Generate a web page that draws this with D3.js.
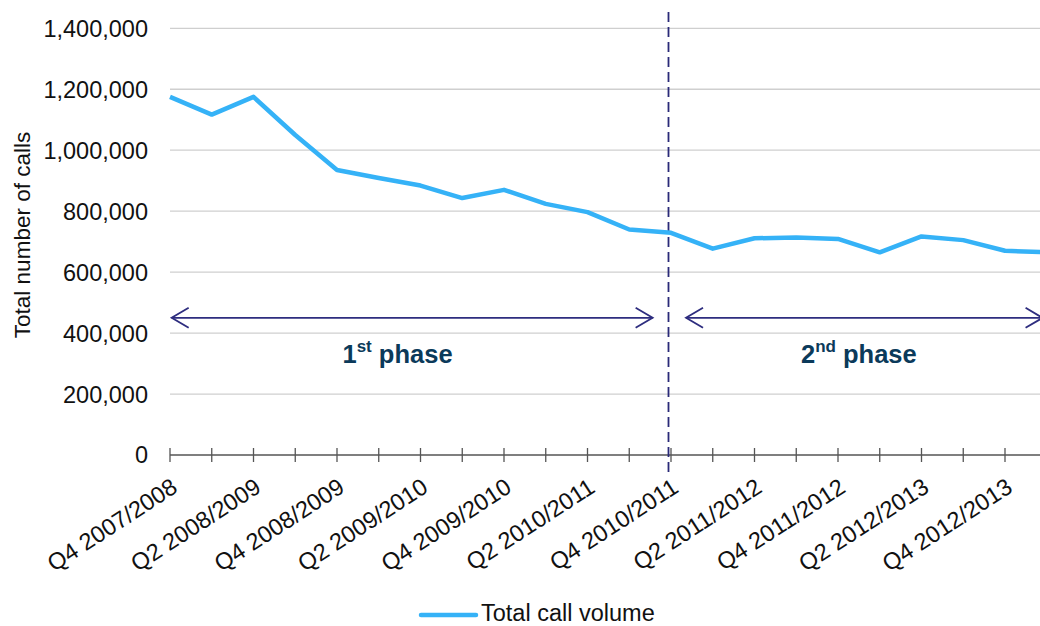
<!DOCTYPE html>
<html>
<head>
<meta charset="utf-8">
<script src="https://cdn.jsdelivr.net/npm/d3@7"></script>
<style>
  html, body { margin: 0; padding: 0; background: #ffffff; }
  svg { display: block; font-family: "Liberation Sans", Arial, sans-serif; }
</style>
</head>
<body>
<svg id="chart" width="1040" height="626"></svg>
<script>
// Quarterly periods (financial years)
const quarters = [
  "Q4 2007/2008", "Q1 2008/2009", "Q2 2008/2009", "Q3 2008/2009", "Q4 2008/2009",
  "Q1 2009/2010", "Q2 2009/2010", "Q3 2009/2010", "Q4 2009/2010",
  "Q1 2010/2011", "Q2 2010/2011", "Q3 2010/2011", "Q4 2010/2011",
  "Q1 2011/2012", "Q2 2011/2012", "Q3 2011/2012", "Q4 2011/2012",
  "Q1 2012/2013", "Q2 2012/2013", "Q3 2012/2013", "Q4 2012/2013",
  "Q1 2013/2014"
];

// Total call volume per quarter
const callVolume = [
  1175000, 1117000, 1175000, 1050000, 935000,
  909000, 884000, 843000, 870000,
  824000, 797000, 740000, 729000,
  677000, 711000, 714000, 709000,
  665000, 717000, 705000, 670000,
  665000
];

// Value axis ticks
const yTicks = [0, 200000, 400000, 600000, 800000, 1000000, 1200000, 1400000];

// Phase annotations: [start index, end index] and labels
const phaseBoundary = 11.94;
const phases = [
  { from: 0.04, to: 11.56, num: "1", sup: "st", label: " phase", center: 5.45 },
  { from: 12.36, to: 20.9, num: "2", sup: "nd", label: " phase", center: 16.5 }
];
const phaseArrowValue = 450000;
const phaseLabelValue = 300000;

const seriesName = "Total call volume";

const svg = d3.select("#chart");

const x = d3.scaleLinear().domain([0, 20]).range([170, 1005]);
const y = d3.scaleLinear().domain([0, 1400000]).range([455, 28.3]);

const textSize = 23.5;

// Horizontal gridlines
svg.append("g")
  .selectAll("line")
  .data(yTicks.filter(d => d > 0))
  .join("line")
  .attr("x1", x(0)).attr("x2", 1040)
  .attr("y1", d => y(d)).attr("y2", d => y(d))
  .attr("stroke", "#cfcfcf").attr("stroke-width", 1.3);

// Value axis labels
const fmt = d3.format(",");
svg.append("g")
  .selectAll("text")
  .data(yTicks)
  .join("text")
  .attr("x", 148)
  .attr("y", d => y(d))
  .attr("dy", "0.36em")
  .attr("text-anchor", "end")
  .attr("font-size", textSize)
  .attr("fill", "#111")
  .text(d => fmt(d));

// Value axis title
svg.append("text")
  .attr("transform", "translate(30,235) rotate(-90)")
  .attr("text-anchor", "middle")
  .attr("font-size", 22.5)
  .attr("fill", "#111")
  .text("Total number of calls");

// Category axis line and crossing tick marks
const idx = d3.range(quarters.length);
svg.append("line")
  .attr("x1", x(0)).attr("x2", 1040)
  .attr("y1", y(0)).attr("y2", y(0))
  .attr("stroke", "#555").attr("stroke-width", 1.5);
svg.append("g")
  .selectAll("line")
  .data(idx)
  .join("line")
  .attr("x1", d => x(d)).attr("x2", d => x(d))
  .attr("y1", y(0) - 7).attr("y2", y(0) + 7)
  .attr("stroke", "#555").attr("stroke-width", 1.3);

// Category labels on every other quarter, slanted
svg.append("g")
  .selectAll("text")
  .data(idx.filter(i => i % 2 === 0))
  .join("text")
  .attr("transform", d => `translate(${x(d) + 9},${491}) rotate(-33)`)
  .attr("text-anchor", "end")
  .attr("font-size", textSize)
  .attr("fill", "#111")
  .text(d => quarters[d]);

// Phase boundary
svg.append("line")
  .attr("x1", x(phaseBoundary)).attr("x2", x(phaseBoundary))
  .attr("y1", 12).attr("y2", 472)
  .attr("stroke", "#2a2a78").attr("stroke-width", 1.8)
  .attr("stroke-dasharray", "10,5");

// Phase arrows (double-headed, open chevrons)
const arrowColor = "#2e2d7f";
phases.forEach(p => {
  const g = svg.append("g").attr("stroke", arrowColor).attr("fill", "none").attr("stroke-width", 1.8);
  const ya = y(phaseArrowValue);
  const x1 = x(p.from), x2 = x(p.to);
  g.append("line").attr("x1", x1).attr("x2", x2).attr("y1", ya).attr("y2", ya);
  g.append("path").attr("d", `M${x1 + 17},${ya - 10} L${x1},${ya} L${x1 + 17},${ya + 10}`);
  g.append("path").attr("d", `M${x2 - 17},${ya - 10} L${x2},${ya} L${x2 - 17},${ya + 10}`);

  const t = svg.append("text")
    .attr("x", x(p.center))
    .attr("y", y(phaseLabelValue) - 1)
    .attr("text-anchor", "middle")
    .attr("font-size", 25.5)
    .attr("font-weight", "bold")
    .attr("fill", "#0b3a5a");
  t.append("tspan").text(p.num);
  t.append("tspan").attr("font-size", 17).attr("dy", "-0.6em").text(p.sup);
  t.append("tspan").attr("dy", "0.4em").text(p.label);
});

// Call volume line
const line = d3.line()
  .x((d, i) => x(i))
  .y(d => y(d));
svg.append("path")
  .datum(callVolume)
  .attr("d", line)
  .attr("fill", "none")
  .attr("stroke", "#35b2f7")
  .attr("stroke-width", 4.5)
  .attr("stroke-linejoin", "round");

// Legend
svg.append("line")
  .attr("x1", 421).attr("x2", 476)
  .attr("y1", 615).attr("y2", 615)
  .attr("stroke", "#35b2f7").attr("stroke-width", 4.5)
  .attr("stroke-linecap", "round");
svg.append("text")
  .attr("x", 481).attr("y", 621)
  .attr("font-size", textSize)
  .attr("fill", "#111")
  .text(seriesName);
</script>
</body>
</html>
